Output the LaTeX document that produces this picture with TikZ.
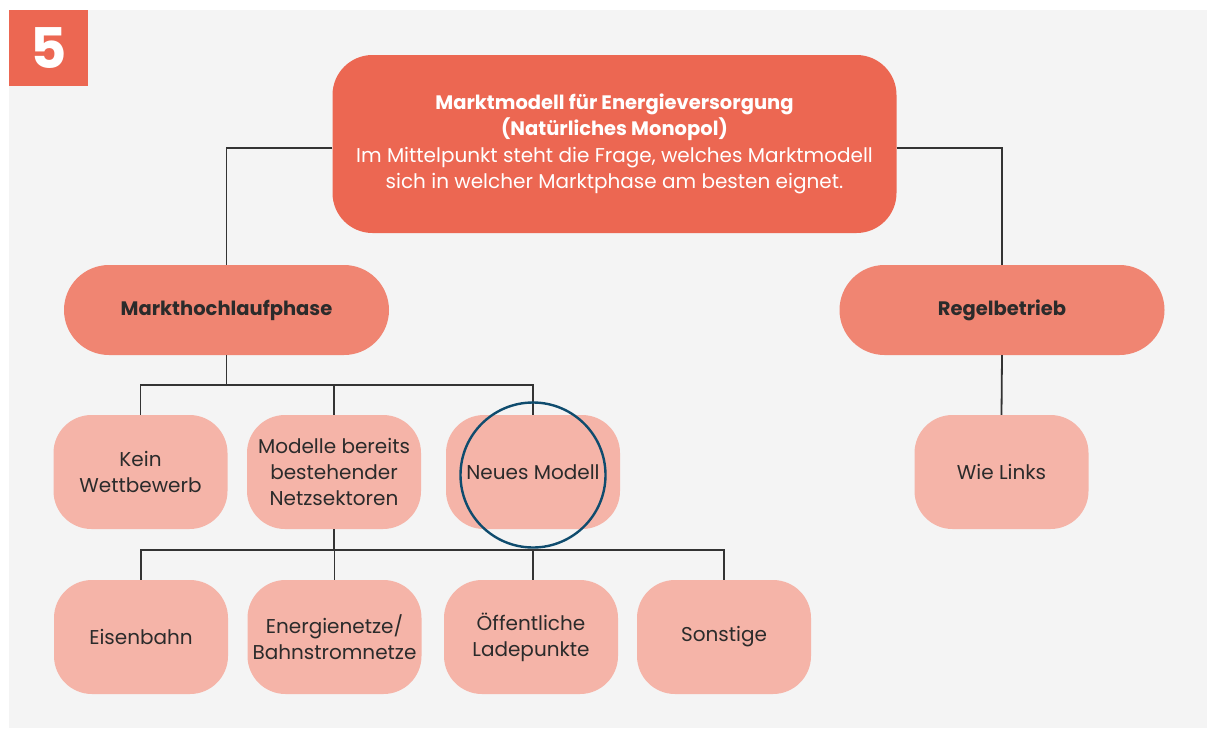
\documentclass[tikz,border=0pt]{standalone}
\usepackage{fontspec}
\setmainfont{Poppins}
\usepackage{tikz}
\usetikzlibrary{positioning,calc}
\definecolor{mred}{HTML}{EC6752}
\definecolor{mmid}{HTML}{F08572}
\definecolor{mlight}{HTML}{F5B4A8}
\definecolor{mbg}{HTML}{F4F4F4}
\definecolor{mtext}{HTML}{2B2B2B}
\definecolor{mline}{HTML}{333333}
\definecolor{mring}{HTML}{0F4C6E}
\tikzset{
 base/.style={align=center,inner sep=0pt,font=\fontsize{20}{26}\selectfont,text=mtext},
 headbox/.style={base,fill=mred,rounded corners=40pt,minimum width=564pt,minimum height=178pt,text=white,
   font=\fontsize{20}{26.5}\selectfont},
 phasebox/.style={base,fill=mmid,rounded corners=45pt,minimum width=325pt,minimum height=90pt,font=\fontsize{19.5}{26}\selectfont\bfseries},
 leafbox/.style={base,fill=mlight,rounded corners=38pt,minimum width=174pt,minimum height=114pt},
 link/.style={draw=mline,line width=1.8pt}
}
\begin{document}
\begin{tikzpicture}[x=1pt,y=-1pt]
 \useasboundingbox (0,0) rectangle (1207,728);
 \fill[mbg] (9,10) rectangle (1207,728);
 \node[fill=mred,minimum width=79pt,minimum height=76pt,inner sep=0pt,text=white,
   font=\fontsize{56}{56}\selectfont\bfseries] (badge) at (48.5,48) {5};
 % top and phases
 \node[headbox] (markt) at (614.5,144) {{\fontsize{19.5}{26.5}\selectfont\bfseries Marktmodell für Energieversorgung}\\
   {\fontsize{19.5}{26.5}\selectfont\bfseries (Natürliches Monopol)}\\Im Mittelpunkt steht die Frage, welches Marktmodell\\
   sich in welcher Marktphase am besten eignet.};
 \node[phasebox] (hochlauf) at (226.5,310) {Markthochlaufphase};
 \node[phasebox] (regel) at (1002,310) {Regelbetrieb};
 % third row
 \node[leafbox] (kein) at (140.5,472) {Kein\\Wettbewerb};
 \node[leafbox] (bestand) at (334,472) {Modelle bereits\\bestehender\\Netzsektoren};
 \node[leafbox] (neu) at (533,472) {Neues Modell};
 \node[leafbox] (links) at (1001.5,472) {Wie Links};
 % fourth row
 \node[leafbox] (bahn) at (141,637) {Eisenbahn};
 \node[leafbox] (netze) at (334.5,637) {Energienetze/\\Bahnstromnetze};
 \node[leafbox] (lade) at (531,637) {Öffentliche\\Ladepunkte};
 \node[leafbox] (sonst) at (724,637) {Sonstige};
 % connectors
 \draw[link] ([yshift=-4pt]markt.west) -| (hochlauf.north);
 \draw[link] ([yshift=-4pt]markt.east) -| (regel.north);
 \draw[link] (regel.south) -- (links.north);
 \draw[link] (hochlauf.south) -- ++(0,30) coordinate (fork1);
 \draw[link] (kein.north) |- (fork1) -| (neu.north);
 \draw[link] (bestand.north) -- (bestand.north |- fork1);
 \draw[link] (bestand.south) -- ++(0,21) coordinate (fork2);
 \draw[link] (bahn.north) |- (fork2) -| (sonst.north);
 \draw[link] (netze.north) -- (netze.north |- fork2);
 \draw[link] ([xshift=2pt]lade.north) -- ([xshift=2pt]lade.north |- fork2);
 \node[draw=mring,line width=2.4pt,circle,minimum size=145pt,inner sep=0pt] (ring) at (533,475) {};
\end{tikzpicture}
\end{document}
